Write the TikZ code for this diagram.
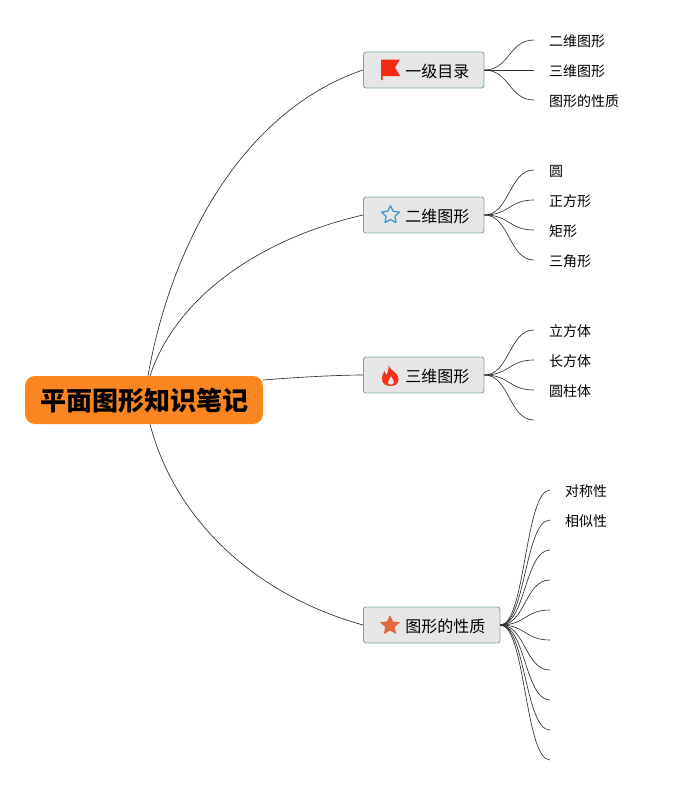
\documentclass[tikz,border=0pt]{standalone}
\usepackage{fontspec}
\setmainfont{Noto Sans CJK SC}
\usetikzlibrary{shapes.geometric}
\definecolor{rootorange}{HTML}{F98620}
\definecolor{branchgray}{HTML}{E6E6E6}
\definecolor{branchteal}{HTML}{75AB9B}
\definecolor{linkgray}{HTML}{2E2E2E}
\definecolor{flagred}{HTML}{F52A0F}
\definecolor{flamered}{HTML}{F5321A}
\definecolor{starblue}{HTML}{3A9BD9}
\definecolor{starorange}{HTML}{E4693A}
\tikzset{
  rootbox/.style={fill=rootorange, rounded corners=10pt, minimum width=238pt, minimum height=48pt, inner sep=0pt, text height=24pt, text depth=3pt, font=\fontsize{26pt}{26pt}\selectfont\bfseries, execute at begin node=\hspace*{1pt}},
  branchbox/.style={anchor=west, draw=branchteal, fill=branchgray, line width=0.9pt, rounded corners=2.5pt, minimum height=36pt, inner xsep=0pt, inner ysep=0pt, text height=15.5pt, text depth=1.5pt, font=\fontsize{16pt}{16pt}\selectfont, execute at begin node=\hspace*{42pt}, execute at end node=\hspace*{14.5pt}},
  leafbox/.style={anchor=west, inner xsep=15pt, inner ysep=0pt, text height=14pt, text depth=1.5pt, font=\fontsize{14pt}{14pt}\selectfont},
  link/.style={draw=linkgray, line width=0.65pt},
  iconstar/.style={star, star points=5, star point ratio=2.1, inner sep=0pt}
}
\begin{document}
\begin{tikzpicture}[x=1pt,y=-1pt]
  \useasboundingbox (0,0) rectangle (679,785);

  \node[rootbox] (root) at (144,400) {平面图形知识笔记};

  \node[branchbox] (mulu) at (363,70) {一级目录};
  \node[branchbox] (erwei) at (363,215) {二维图形};
  \node[branchbox] (sanwei) at (363,375) {三维图形};
  \node[branchbox] (xingzhi) at (363,625) {图形的性质};

  % root links
  \draw[link] ([xshift=4pt]root.north) .. controls (172,240) and (245,110) .. (mulu.west);
  \draw[link] ([xshift=6pt]root.north) .. controls (175,300) and (255,240) .. (erwei.west);
  \draw[link] ([yshift=20pt]root.east) .. controls (300,377) and (340,375) .. (sanwei.west);
  \draw[link] ([xshift=6pt]root.south) .. controls (175,520) and (255,595) .. (xingzhi.west);

  % leaves
  \node[leafbox] (mulu1) at (534,40) {二维图形};
  \node[leafbox] (mulu2) at (534,70) {三维图形};
  \node[leafbox] (mulu3) at (534,100) {图形的性质};
  \foreach \leaf in {mulu1.west,mulu2.west,mulu3.west}
    \draw[link] (mulu.east) .. controls +(25,0) and +(-25,0) .. (\leaf);

  \node[leafbox] (erwei1) at (534,170) {圆};
  \node[leafbox] (erwei2) at (534,200) {正方形};
  \node[leafbox] (erwei3) at (534,230) {矩形};
  \node[leafbox] (erwei4) at (534,260) {三角形};
  \foreach \leaf in {erwei1.west,erwei2.west,erwei3.west,erwei4.west}
    \draw[link] (erwei.east) .. controls +(25,0) and +(-25,0) .. (\leaf);

  \node[leafbox] (sanwei1) at (534,330) {立方体};
  \node[leafbox] (sanwei2) at (534,360) {长方体};
  \node[leafbox] (sanwei3) at (534,390) {圆柱体};
  \coordinate (sanwei4) at (534,420);
  \foreach \leaf in {sanwei1.west,sanwei2.west,sanwei3.west,sanwei4}
    \draw[link] (sanwei.east) .. controls +(25,0) and +(-25,0) .. (\leaf);

  \node[leafbox] (xingzhi1) at (550,490) {对称性};
  \node[leafbox] (xingzhi2) at (550,520) {相似性};
  \foreach \n/\y in {3/550,4/580,5/610,6/640,7/670,8/700,9/730,10/760}
    \coordinate (xingzhi\n) at (550,\y);
  \foreach \leaf in {xingzhi1.west,xingzhi2.west,xingzhi3,xingzhi4,xingzhi5,xingzhi6,xingzhi7,xingzhi8,xingzhi9,xingzhi10}
    \draw[link] (xingzhi.east) .. controls +(25,0) and +(-25,0) .. (\leaf);

  % icons
  \fill[flagred] (381,59.5) -- (400,59.5) -- (395,67.5) -- (400,76) -- (382.5,76) -- (382.5,80) -- (381,80) -- cycle;
  \node[iconstar, draw=starblue, line width=1.3pt, rounded corners=0.5pt, minimum size=19pt] (bluestar) at (390.5,215) {};
  \fill[flamered, even odd rule] (388.5,365) .. controls (389,370) and (398.5,372) .. (398.5,379.5)
    .. controls (398.5,384) and (395,386) .. (390.5,386) .. controls (386,386) and (382,384) .. (382,379)
    .. controls (382,376) and (383,373) .. (384.5,371) .. controls (385,373) and (385.5,374) .. (386.5,375)
    .. controls (388,372) and (389,368) .. (388.5,365) -- cycle
    (391,376) .. controls (391,379) and (387.8,380) .. (387.8,382.5) .. controls (387.8,384) and (389.5,384.8) .. (390.8,384.8)
    .. controls (392.5,384.8) and (394,384) .. (394,382) .. controls (394,380) and (392,378.5) .. (391,376) -- cycle;
  \node[iconstar, fill=starorange, rounded corners=0.5pt, minimum size=21pt] (orangestar) at (390,625.5) {};
\end{tikzpicture}
\end{document}
